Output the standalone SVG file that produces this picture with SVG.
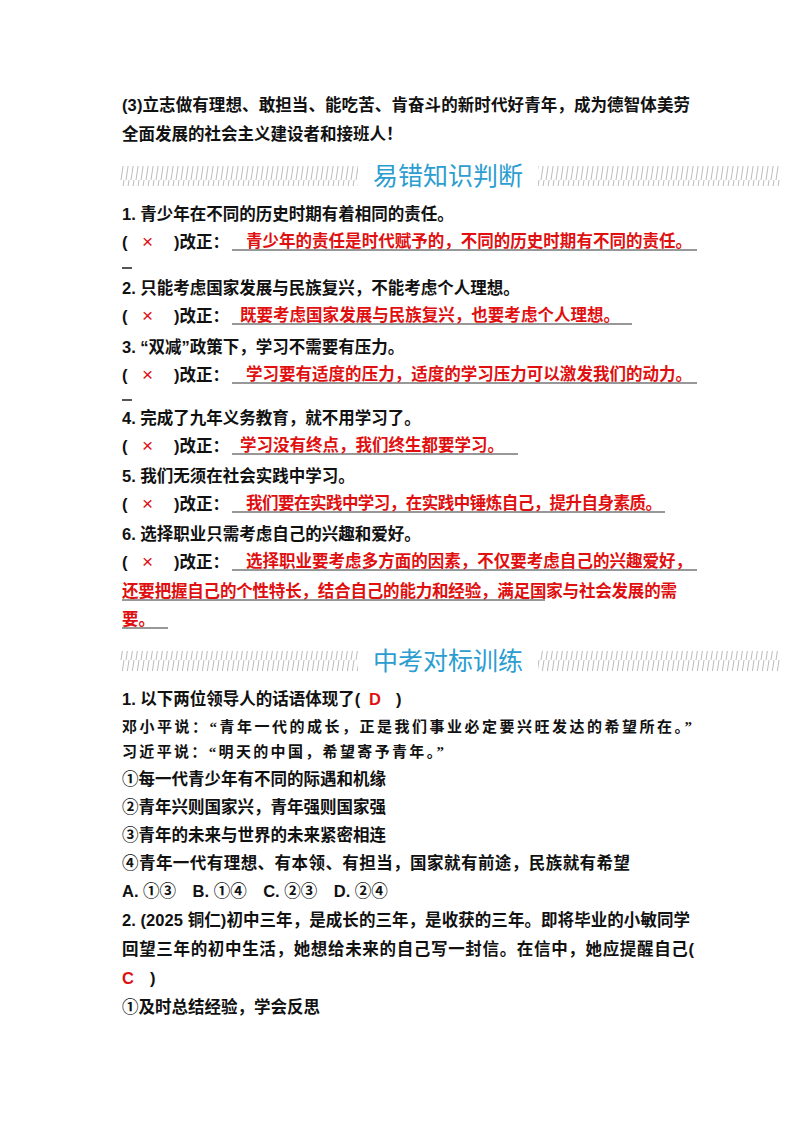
<svg xmlns="http://www.w3.org/2000/svg" width="800" height="1132" viewBox="0 0 800 1132">
<defs>
<pattern id="h" width="5" height="20" patternUnits="userSpaceOnUse"><line x1="1" y1="20" x2="4" y2="0" stroke="#bbb" stroke-width="1"/></pattern>
<style>
.t{font-family:"Liberation Sans","Noto Sans CJK SC",sans-serif;font-size:16.5px;font-weight:bold;fill:#111}
.r{font-family:"Liberation Sans","Noto Sans CJK SC",sans-serif;font-size:16.5px;font-weight:bold;fill:#e01010}
.x{font-family:"Liberation Sans","Noto Sans CJK SC",sans-serif;font-size:19px;fill:#e01010}
.q{font-family:"Liberation Serif","Noto Sans CJK SC",serif;font-size:15px;font-weight:bold;fill:#111}
.h{font-family:"Noto Sans CJK SC",sans-serif;font-size:25px;fill:#2b9dd0}
.u{stroke:#333;stroke-width:1.2}
</style>
</defs>
<rect width="800" height="1132" fill="#fff"/>
<text class="t" x="122" y="111" textLength="568">(3)立志做有理想、敢担当、能吃苦、肯奋斗的新时代好青年，成为德智体美劳</text>
<text class="t" x="122" y="140">全面发展的社会主义建设者和接班人！</text>
<rect x="120" y="166" width="238" height="20" fill="url(#h)"/>
<rect x="538" y="166" width="242" height="20" fill="url(#h)"/>
<text class="h" x="448" y="185" text-anchor="middle">易错知识判断</text>

<text class="t" x="122" y="220">1. 青少年在不同的历史时期有着相同的责任。</text>
<text class="t" x="122" y="248">(</text><text class="x" x="142" y="248">×</text><text class="t" x="174" y="248">)改正：</text>
<line class="u" x1="232" y1="250" x2="697" y2="250"/>
<text class="r" x="246" y="247" textLength="446">青少年的责任是时代赋予的，不同的历史时期有不同的责任。</text>
<line x1="122" y1="268" x2="132" y2="268" stroke="#555" stroke-width="2"/>

<text class="t" x="122" y="294">2. 只能考虑国家发展与民族复兴，不能考虑个人理想。</text>
<text class="t" x="122" y="322">(</text><text class="x" x="142" y="322">×</text><text class="t" x="174" y="322">)改正：</text>
<line class="u" x1="232" y1="324" x2="632" y2="324"/>
<text class="r" x="240" y="321" textLength="380">既要考虑国家发展与民族复兴，也要考虑个人理想。</text>

<text class="t" x="122" y="353">3. “双减”政策下，学习不需要有压力。</text>
<text class="t" x="122" y="381">(</text><text class="x" x="142" y="381">×</text><text class="t" x="174" y="381">)改正：</text>
<line class="u" x1="232" y1="383" x2="697" y2="383"/>
<text class="r" x="246" y="380" textLength="446">学习要有适度的压力，适度的学习压力可以激发我们的动力。</text>
<line x1="122" y1="400" x2="132" y2="400" stroke="#555" stroke-width="2"/>

<text class="t" x="122" y="424">4. 完成了九年义务教育，就不用学习了。</text>
<text class="t" x="122" y="452">(</text><text class="x" x="142" y="452">×</text><text class="t" x="174" y="452">)改正：</text>
<line class="u" x1="232" y1="454" x2="518" y2="454"/>
<text class="r" x="240" y="451" textLength="264">学习没有终点，我们终生都要学习。</text>

<text class="t" x="122" y="482">5. 我们无须在社会实践中学习。</text>
<text class="t" x="122" y="510">(</text><text class="x" x="142" y="510">×</text><text class="t" x="174" y="510">)改正：</text>
<line class="u" x1="232" y1="512" x2="665" y2="512"/>
<text class="r" x="246" y="509" textLength="416">我们要在实践中学习，在实践中锤炼自己，提升自身素质。</text>

<text class="t" x="122" y="540">6. 选择职业只需考虑自己的兴趣和爱好。</text>
<text class="t" x="122" y="568">(</text><text class="x" x="142" y="568">×</text><text class="t" x="174" y="568">)改正：</text>
<line class="u" x1="232" y1="570" x2="697" y2="570"/>
<text class="r" x="246" y="567" textLength="446">选择职业要考虑多方面的因素，不仅要考虑自己的兴趣爱好，</text>
<text class="r" x="122" y="597" textLength="555">还要把握自己的个性特长，结合自己的能力和经验，满足国家与社会发展的需</text>
<line class="u" x1="122" y1="600" x2="545" y2="600"/>
<text class="r" x="122" y="625">要。</text>
<line class="u" x1="122" y1="628" x2="168" y2="628"/>

<rect x="120" y="651" width="238" height="20" fill="url(#h)"/>
<rect x="538" y="651" width="242" height="20" fill="url(#h)"/>
<text class="h" x="448" y="670" text-anchor="middle">中考对标训练</text>

<text class="t" x="122" y="705">1. 以下两位领导人的话语体现了(</text><text class="r" x="369" y="705" font-family="Liberation Serif" font-size="18">D</text><text class="t" x="396" y="705">)</text>
<text class="q" x="122" y="732" textLength="570">邓小平说：“青年一代的成长，正是我们事业必定要兴旺发达的希望所在。”</text>
<text class="q" x="122" y="757" textLength="322">习近平说：“明天的中国，希望寄予青年。”</text>
<text class="t" x="122" y="785">①每一代青少年有不同的际遇和机缘</text>
<text class="t" x="122" y="813">②青年兴则国家兴，青年强则国家强</text>
<text class="t" x="122" y="841">③青年的未来与世界的未来紧密相连</text>
<text class="t" x="122" y="869" textLength="508">④青年一代有理想、有本领、有担当，国家就有前途，民族就有希望</text>
<text class="t" x="122" y="897">A. ①③　B. ①④　C. ②③　D. ②④</text>
<text class="t" x="122" y="926" textLength="568">2. (2025 铜仁)初中三年，是成长的三年，是收获的三年。即将毕业的小敏同学</text>
<text class="t" x="122" y="955" textLength="572">回望三年的初中生活，她想给未来的自己写一封信。在信中，她应提醒自己(</text>
<text class="r" x="122" y="984" font-family="Liberation Serif" font-size="18">C</text><text class="t" x="150" y="984">)</text>
<text class="t" x="122" y="1013">①及时总结经验，学会反思</text>
</svg>
